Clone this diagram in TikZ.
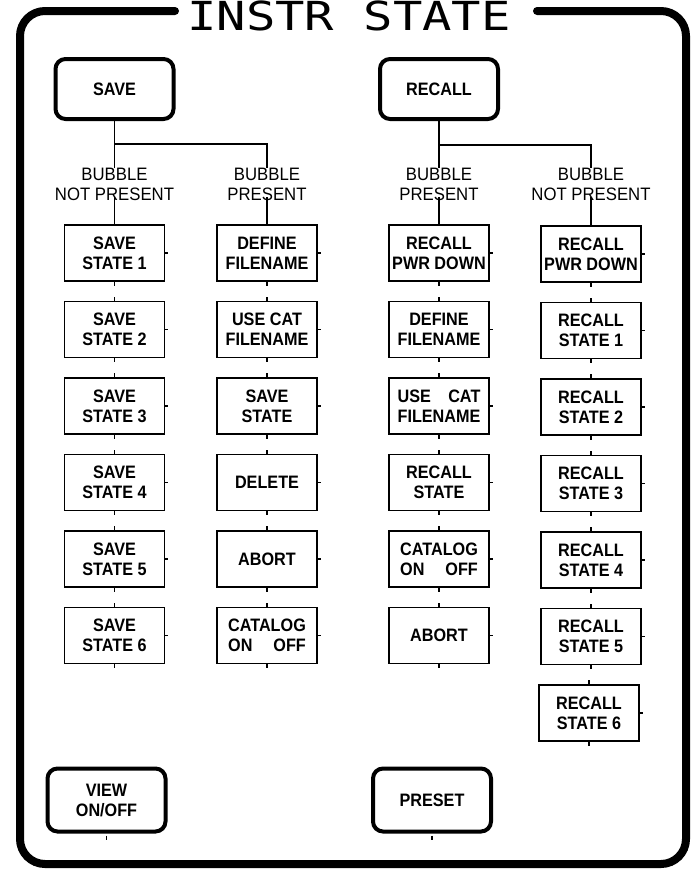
\documentclass[tikz,border=0pt]{standalone}
\usepackage{fontspec}
\usepackage{calc}
\newfontfamily\lblfont[FakeStretch=0.9]{Liberation Sans}
\newfontfamily\condfont[FakeStretch=0.93]{Liberation Sans}
\newfontfamily\titlefont{DejaVu Sans Mono}
\tikzset{
  keybox/.style={draw, line width=1.3pt, minimum width=100pt, minimum height=56pt,
    inner sep=0pt, align=center, font=\lblfont\bfseries\fontsize{18}{20}\selectfont},
  hardkey/.style={draw, line width=4pt, rounded corners=10pt, minimum width=118pt,
    minimum height=60pt, inner sep=0pt, align=center,
    font=\lblfont\bfseries\fontsize{18}{20}\selectfont},
  cond/.style={align=center, inner sep=0pt, font=\condfont\fontsize{18}{20}\selectfont},
  wire/.style={line width=1.5pt},
  stub/.style={line width=1.3pt},
  frame/.style={line width=8pt, rounded corners=25pt, line cap=round}
}
\begin{document}
\begin{tikzpicture}[x=1pt,y=-1pt]
\useasboundingbox (0,0) rectangle (699,873);
% frame and title
\draw[frame] (175,11) -- (20,11) -- (20,864) -- (686,864) -- (686,11) -- (537,11);
\node[anchor=base, inner sep=0pt, font=\titlefont\fontsize{40}{40}\selectfont] (title) at (349,30.5) {\scalebox{1.22}[1]{INSTR STATE}};
% hard keys
\node[hardkey] (save) at (114.5,89) {SAVE};
\node[hardkey] (recall) at (439,89) {RECALL};
\node[hardkey, minimum height=63pt] (view) at (106.5,800) {VIEW\\ON/OFF};
\node[hardkey, minimum height=63pt] (preset) at (432,800) {PRESET};
% condition labels
\node[cond] (c1) at (114.5,184) {BUBBLE\\NOT PRESENT};
\node[cond] (c2) at (267,184) {BUBBLE\\PRESENT};
\node[cond] (c3) at (439,184) {BUBBLE\\PRESENT};
\node[cond] (c4) at (591,184) {BUBBLE\\NOT PRESENT};
% column 1
\node[keybox] (s1) at (114.5,253) {SAVE\\STATE 1};
\node[keybox] (s2) at (114.5,329.5) {SAVE\\STATE 2};
\node[keybox] (s3) at (114.5,406) {SAVE\\STATE 3};
\node[keybox] (s4) at (114.5,482.5) {SAVE\\STATE 4};
\node[keybox] (s5) at (114.5,559) {SAVE\\STATE 5};
\node[keybox] (s6) at (114.5,635.5) {SAVE\\STATE 6};
% column 2
\node[keybox] (p1) at (267,253) {DEFINE\\FILENAME};
\node[keybox] (p2) at (267,329.5) {USE CAT\\FILENAME};
\node[keybox] (p3) at (267,406) {SAVE\\STATE};
\node[keybox] (p4) at (267,482.5) {DELETE};
\node[keybox] (p5) at (267,559) {ABORT};
\node[keybox] (p6) at (267,635.5) {CATALOG\\\makebox[\widthof{CATALOG}][s]{ON\hfill OFF}};
% column 3
\node[keybox] (r1) at (439,253) {RECALL\\PWR DOWN};
\node[keybox] (r2) at (439,329.5) {DEFINE\\FILENAME};
\node[keybox] (r3) at (439,406) {\makebox[\widthof{FILENAME}][s]{USE\hfill CAT}\\FILENAME};
\node[keybox] (r4) at (439,482.5) {RECALL\\STATE};
\node[keybox] (r5) at (439,559) {CATALOG\\\makebox[\widthof{CATALOG}][s]{ON\hfill OFF}};
\node[keybox] (r6) at (439,635.5) {ABORT};
% column 4
\node[keybox] (n1) at (591,254) {RECALL\\PWR DOWN};
\node[keybox] (n2) at (591,330.5) {RECALL\\STATE 1};
\node[keybox] (n3) at (591,407) {RECALL\\STATE 2};
\node[keybox] (n4) at (591,483.5) {RECALL\\STATE 3};
\node[keybox] (n5) at (591,560) {RECALL\\STATE 4};
\node[keybox] (n6) at (591,636.5) {RECALL\\STATE 5};
\node[keybox] (n7) at (589,713) {RECALL\\STATE 6};
% tree connectors
\draw[wire] (save.south) -- (c1.north);
\draw[wire] (save.south |- 0,144) -| (c2.north);
\draw[wire] (recall.south) -- (c3.north);
\draw[wire] (recall.south |- 0,145) -| (c4.north);
\draw[wire] ([yshift=3pt]c1.south) -- (s1.north);
\draw[wire] ([yshift=3pt]c2.south) -- (p1.north);
\draw[wire] ([yshift=3pt]c3.south) -- (r1.north);
\draw[wire] ([yshift=3pt]c4.south) -- (n1.north);
% small stubs on the soft keys
\foreach \b in {s1,s2,s3,s4,s5,s6,p1,p2,p3,p4,p5,p6,r1,r2,r3,r4,r5,r6,n1,n2,n3,n4,n5,n6,n7}{
  \draw[stub] (\b.north) -- ++(0,-4);
  \draw[stub] (\b.south) -- ++(0,4);
  \draw[stub] (\b.east) -- ++(3,0);
}
\draw[stub] ([yshift=-2pt]view.south) -- ++(0,4);
\draw[stub] ([yshift=-2pt]preset.south) -- ++(0,4);
\end{tikzpicture}
\end{document}
